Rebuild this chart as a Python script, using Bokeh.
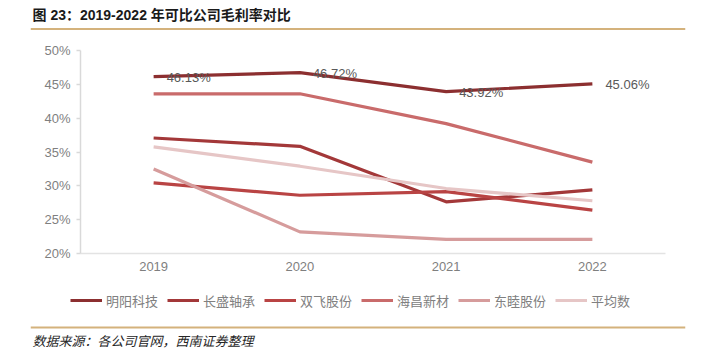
from bokeh.plotting import figure
from bokeh.layouts import column, row
from bokeh.models import (FactorRange, Range1d, FixedTicker, PrintfTickFormatter, Legend,
                          LegendItem, Span, ColumnDataSource)
from bokeh.core.properties import value
from bokeh.embed import file_html
from bokeh.resources import INLINE

years = ["2019", "2020", "2021", "2022"]
names = ["明阳科技", "长盛轴承", "双飞股份", "海昌新材", "东睦股份", "平均数"]
mingyang = [46.13, 46.72, 43.92, 45.06]
changsheng = [37.07, 35.84, 27.63, 29.40]
shuangfei = [30.43, 28.61, 29.15, 26.40]
haichang = [43.60, 43.60, 39.20, 33.50]
dongmu = [32.50, 23.20, 22.10, 22.10]
average = [35.75, 32.90, 29.60, 27.80]
series = [mingyang, changsheng, shuangfei, haichang, dongmu, average]
colors = ["#8c2f30", "#a33839", "#b94444", "#c96b6b", "#d69c9c", "#e6c6c6"]
y_ticks = [20, 25, 30, 35, 40, 45, 50]

title_text = "图 23：2019-2022 年可比公司毛利率对比"
source_text = "数据来源：各公司官网，西南证券整理"

FONT = "Liberation Sans, Arial, Noto Sans CJK SC, sans-serif"
CJK = "Noto Sans CJK SC, sans-serif"
GOLD = "#d4b27c"
W = 714


def strip(fig):
    fig.outline_line_color = None
    fig.xgrid.grid_line_color = None
    fig.ygrid.grid_line_color = None
    fig.xaxis.visible = False
    fig.yaxis.visible = False


# ---- header: title + gold rule ----
top = figure(width=W, height=36, output_backend="svg", toolbar_location=None,
             x_range=Range1d(0, 655), y_range=Range1d(36, 0),
             min_border_left=30, min_border_right=29, min_border_top=0, min_border_bottom=0,
             border_fill_color="white", background_fill_color="white")
strip(top)
top.text(x=[2], y=[14], text=[title_text], text_font=value(FONT), text_font_size="14px",
         text_font_style="bold", text_color="#1a1a1a", text_baseline="middle", text_align="left")
top.add_layout(Span(location=28.5, dimension="width", line_color=GOLD, line_width=2))

# ---- main chart ----
p = figure(width=W, height=248, output_backend="svg", toolbar_location=None,
           x_range=FactorRange(*years, range_padding=0), y_range=Range1d(20, 50),
           min_border_left=80, min_border_right=49, min_border_top=14, min_border_bottom=31,
           background_fill_color="white", border_fill_color="white")
p.outline_line_color = None
p.xgrid.grid_line_color = None
p.ygrid.grid_line_color = None

p.yaxis.ticker = FixedTicker(ticks=y_ticks)
p.yaxis.formatter = PrintfTickFormatter(format="%d%%")
p.yaxis.axis_line_color = "#d9d9d9"
p.yaxis.axis_line_width = 1.5
p.yaxis.major_tick_line_color = "#d9d9d9"
p.yaxis.major_tick_line_width = 1.5
p.yaxis.major_tick_out = 4
p.yaxis.major_tick_in = 0
p.yaxis.minor_tick_line_color = None
p.yaxis.major_label_text_font = FONT
p.yaxis.major_label_text_font_size = "13px"
p.yaxis.major_label_text_color = "#7f7f7f"
p.yaxis.major_label_standoff = 6

p.xaxis.axis_line_color = "#e3e3e3"
p.xaxis.axis_line_width = 1.5
p.xaxis.major_tick_line_color = None
p.xaxis.major_tick_out = 0
p.xaxis.major_tick_in = 0
p.xaxis.minor_tick_line_color = None
p.xaxis.major_label_text_font = FONT
p.xaxis.major_label_text_font_size = "13px"
p.xaxis.major_label_text_color = "#7f7f7f"
p.xaxis.major_label_standoff = 8

for name, vals, col in zip(names, series, colors):
    p.line(x=years, y=vals, line_color=col, line_width=3.2)

src = ColumnDataSource(dict(x=years, y=mingyang, t=[f"{v:.2f}%" for v in mingyang]))
p.text(x="x", y="y", text="t", source=src, x_offset=13, y_offset=1,
       text_align="left", text_baseline="middle", text_font=value(FONT),
       text_font_size="13px", text_color="#595959")

# ---- legend strip (same series, drawn outside its visible range) ----
lg = figure(width=W, height=31, output_backend="svg", toolbar_location=None,
            x_range=FactorRange(*years), y_range=Range1d(100, 101),
            min_border_left=0, min_border_right=0, min_border_top=0, min_border_bottom=0,
            border_fill_color="white", background_fill_color="white")
strip(lg)
items = []
for name, vals, col in zip(names, series, colors):
    r = lg.line(x=years, y=vals, line_color=col, line_width=3.2)
    items.append(LegendItem(label=name, renderers=[r]))
legend = Legend(items=items, orientation="horizontal", location=(70, 5),
                glyph_width=32, glyph_height=20, label_standoff=4, spacing=9,
                padding=0, margin=0, border_line_color=None, background_fill_alpha=0,
                label_text_font=CJK, label_text_font_size="13px",
                label_text_color="#808080", label_height=20)
lg.add_layout(legend)

# ---- footer: gold rule + source ----
bot = figure(width=W, height=39, output_backend="svg", toolbar_location=None,
             x_range=Range1d(0, 655), y_range=Range1d(39, 0),
             min_border_left=30, min_border_right=29, min_border_top=0, min_border_bottom=0,
             border_fill_color="white", background_fill_color="white")
strip(bot)
bot.add_layout(Span(location=12, dimension="width", line_color=GOLD, line_width=2))
bot.text(x=[2], y=[25], text=[source_text], text_font=value(CJK), text_font_size="13px",
         text_font_style="italic", text_color="#262626", text_baseline="middle", text_align="left")

layout = column(row(top), row(p), row(lg), row(bot), spacing=0)
open("out.html", "w").write(file_html(layout, INLINE))
